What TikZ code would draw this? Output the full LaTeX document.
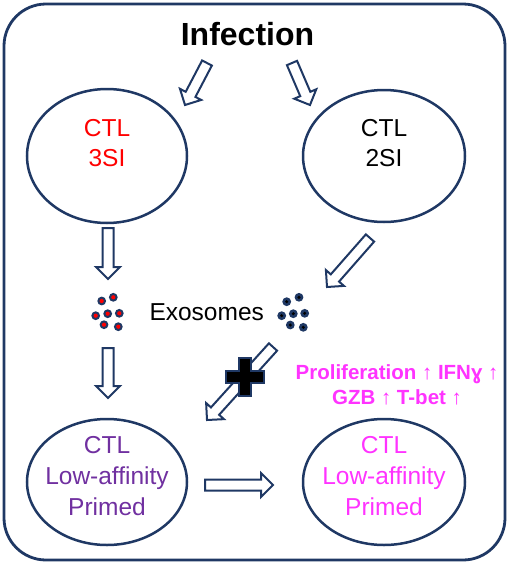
\documentclass[tikz,border=0pt]{standalone}
\usepackage{fontspec}
\setmainfont{Liberation Sans}
\usetikzlibrary{calc,shapes.geometric}
\definecolor{navy}{HTML}{1F3864}
\definecolor{pinkish}{HTML}{FF33FF}
\definecolor{purp}{HTML}{7030A0}
\begin{document}
\begin{tikzpicture}[x=1pt,y=-1pt,
  frame/.style={draw=navy, line width=2.8pt, rounded corners=42pt, minimum width=501pt, minimum height=556pt, inner sep=0pt},
  cell/.style={draw=navy, line width=2.5pt, ellipse, inner sep=0pt},
  lbl/.style={anchor=base, align=center, inner sep=0pt, font=\fontsize{24.5}{30.7}\selectfont},
  boldlbl/.style={anchor=base, align=center, inner sep=0pt, font=\fontsize{20.5}{24.3}\selectfont\bfseries},
  blockarrow/.style={draw=navy, fill=white, line width=2pt, line join=miter,
    to path={let \p1=(\tikztostart), \p2=(\tikztotarget), \p3=($(\p2)!12pt!(\p1)$) in
      ($(\p1)!5.5pt!90:(\p2)$) -- ($(\p3)!5.5pt!90:(\p2)$) -- ($(\p3)!12pt!90:(\p2)$) -- (\p2)
      -- ($(\p3)!12pt!-90:(\p2)$) -- ($(\p3)!5.5pt!-90:(\p2)$) -- ($(\p1)!5.5pt!-90:(\p2)$) -- cycle}},
  exo/.style={fill=navy},
]
\useasboundingbox (0,0) rectangle (510,565);

% frame
\node[frame] (frame) at (254.5,282) {};

% title
\node[anchor=base, inner sep=0pt, font=\fontsize{32}{38}\selectfont\bfseries] (inf) at (247.5,45) {Infection};

% cells
\node[cell, minimum width=160pt, minimum height=134pt] (c3) at (107,156) {};
\node[cell, minimum width=162pt, minimum height=132pt] (c2) at (384,156) {};
\node[cell, minimum width=160pt, minimum height=126pt] (lowL) at (107,482) {};
\node[cell, minimum width=162pt, minimum height=126pt] (lowR) at (384,482) {};

\node[lbl, text=red] (t3) at (107,166.7) {CTL\\3SI};
\node[lbl] (t2) at (384,166.7) {CTL\\2SI};
\node[lbl, text=purp] (tL) at (107,515) {CTL\\Low-affinity\\Primed};
\node[lbl, text=pinkish] (tR) at (384,515) {CTL\\Low-affinity\\Primed};

\node[lbl] (exos) at (206.7,320) {Exosomes};
\node[boldlbl, text=pinkish] (eff) at (397,404) {Proliferation ↑ IFNɣ ↑\\GZB ↑ T-bet ↑};

% arrow ends
\coordinate (a1s) at (207,63);  \coordinate (a1e) at (185,105);
\coordinate (a2s) at (292,63);  \coordinate (a2e) at (310,105);
\coordinate (a3s) at (108,228); \coordinate (a3e) at (108,279);
\coordinate (a4s) at (370,238); \coordinate (a4e) at (327,287);
\coordinate (a5s) at (108,348); \coordinate (a5e) at (108,398);
\coordinate (a6s) at (273,347); \coordinate (a6e) at (207,420);
\coordinate (a7s) at (205,485); \coordinate (a7e) at (273,485);

\path[blockarrow] (a1s) to (a1e);
\path[blockarrow] (a2s) to (a2e);
\path[blockarrow] (a3s) to (a3e);
\path[blockarrow] (a4s) to (a4e);
\path[blockarrow] (a5s) to (a5e);
\path[blockarrow] (a6s) to (a6e);
\path[blockarrow] (a7s) to (a7e);

% blocking cross
\begin{scope}[shift={(245,377)}]
\draw[draw=navy, fill=black, line width=1.2pt, line join=miter]
  (-6,-19) -- (6,-19) -- (6,-6) -- (19,-6) -- (19,6) -- (6,6) -- (6,19)
  -- (-6,19) -- (-6,6) -- (-19,6) -- (-19,-6) -- (-6,-6) -- cycle;
\end{scope}

% exosome dots
\foreach \x/\y in {101.7/301, 113.3/297.3, 95.7/315.7, 107.7/313.7, 119.3/313.3, 104/324.7, 118.3/326.7}{
  \fill[exo] (\x,\y) circle (4.4pt);
  \fill[red] (\x,\y) circle (2.1pt);
}
\foreach \x/\y in {286.7/301.7, 299/297.3, 281.7/315.7, 293.3/313.7, 304.7/313.3, 290.3/325, 303.3/327.3}{
  \fill[exo] (\x,\y) circle (4.4pt);
  \fill[black] (\x,\y) circle (1.7pt);
}
\end{tikzpicture}
\end{document}
